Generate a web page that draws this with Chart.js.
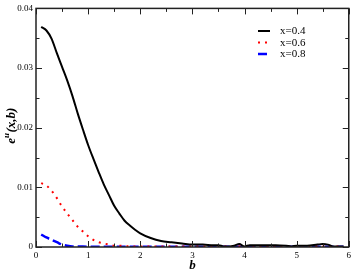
<!DOCTYPE html>
<html><head><meta charset="utf-8">
<script src="https://cdn.jsdelivr.net/npm/chart.js@4"></script>
<style>html,body{margin:0;padding:0;background:#fff}canvas{display:block}</style>
</head><body>
<canvas id="c" width="354" height="273"></canvas>
<script>
// ---- data ----
const bBlack = [0.1,0.2,0.3,0.4,0.5,0.6,0.7,0.8,0.9,1.0,1.1,1.2,1.3,1.4,1.5,1.6,1.7,1.8,1.9,2.0,2.2,2.4,2.6,2.8,3.0,3.2,3.4,3.5,3.6,3.7,3.8,3.9,4.0,4.1,4.2,4.4,4.6,4.8,4.9,5.0,5.2,5.4,5.5,5.6,5.7,5.8,5.9];
const vBlack = [0.0369,0.0363,0.0349,0.0325,0.0302,0.0279,0.0253,0.0224,0.0197,0.0171,0.0148,0.0126,0.0105,0.0087,0.0069,0.0056,0.0044,0.0036,0.0029,0.0023,0.0015,0.0010,0.0008,0.0006,0.0004,0.0004,0.0003,0.0003,0.0001,0.0001,0.0002,0.0005,0.0001,0.0003,0.0003,0.0003,0.0003,0.0002,0.0001,0.0002,0.0002,0.0004,0.0005,0.0004,0.0001,0.0001,0.0001];
const bRed = [0.1,0.2,0.3,0.4,0.5,0.6,0.7,0.8,0.9,1.0,1.1,1.2,1.3,1.4,1.5,1.6,1.8,2.0,2.5,3.0,3.5,4.0,4.5,5.0,5.5,5.9];
const vRed = [0.0107,0.0103,0.0094,0.0082,0.0068,0.0056,0.0045,0.0034,0.0026,0.0018,0.0012,0.0008,0.0006,0.0004,0.0002,0.0002,0.0001,0.0001,0.0001,0.0001,0.0001,0.0001,0.0001,0.0001,0.0001,0.0001];
const bBlue = [0.1,0.2,0.3,0.4,0.5,0.6,0.7,0.8,1.0,1.5,2.0,2.5,3.0,3.5,4.0,4.5,5.0,5.5,5.9];
const vBlue = [0.0021,0.0016,0.0012,0.0008,0.0004,0.0002,0.0001,0.0001,0.00005,0.00005,0.00005,0.00005,0.00005,0.00005,0.00005,0.00005,0.00005,0.00005,0.00005];
const seriesNames = ['x=0.4','x=0.6','x=0.8'];
const xTickValues = [0,1,2,3,4,5,6];
const xTickLabels = ['0','1','2','3','4','5','6'];
const yTickValues = [0,0.01,0.02,0.03,0.04];
const yTickLabels = ['0','0.01','0.02','0.03','0.04'];
const xMinor = [0.5,1.5,2.5,3.5,4.5,5.5];
const yMinor = [0.005,0.015,0.025,0.035];

const pts = (xs, ys) => xs.map((x,i)=>({x:x, y:ys[i]}));
const SERIF = '"Liberation Serif","DejaVu Serif",serif';

const framePlugin = {
  id: 'frame',
  afterDraw(chart) {
    const ctx = chart.ctx, a = chart.chartArea;
    const xs = chart.scales.x, ys = chart.scales.y;
    ctx.save();
    ctx.strokeStyle = '#222';
    ctx.lineWidth = 1.5;
    ctx.strokeRect(a.left, a.top, a.right - a.left, a.bottom - a.top);
    ctx.lineWidth = 1;
    ctx.beginPath();
    const tick = (vals, len) => {
      vals.forEach(v => {
        const px = Math.round(xs.getPixelForValue(v)) + 0.5;
        ctx.moveTo(px, a.bottom); ctx.lineTo(px, a.bottom - len);
        ctx.moveTo(px, a.top); ctx.lineTo(px, a.top + len);
      });
    };
    const tickY = (vals, len) => {
      vals.forEach(v => {
        const py = Math.round(ys.getPixelForValue(v)) + 0.5;
        ctx.moveTo(a.left, py); ctx.lineTo(a.left + len, py);
        ctx.moveTo(a.right, py); ctx.lineTo(a.right - len, py);
      });
    };
    tick(xTickValues, 6); tick(xMinor, 3.5);
    tickY(yTickValues, 6); tickY(yMinor, 3.5);
    ctx.stroke();

    // legend
    const ds = chart.data.datasets;
    const lx0 = 258, lx1 = 270, tx = 280, ly = [31, 42.5, 54];
    ds.forEach((d, i) => {
      ctx.save();
      ctx.strokeStyle = d.borderColor;
      ctx.lineWidth = d.borderWidth;
      ctx.setLineDash(d.borderDash || []);
      ctx.beginPath();
      ctx.moveTo(lx0, ly[i]); ctx.lineTo(lx1, ly[i]);
      ctx.stroke();
      ctx.restore();
      ctx.fillStyle = '#000';
      ctx.font = '11px ' + SERIF;
      ctx.textBaseline = 'middle';
      ctx.textAlign = 'left';
      ctx.fillText(d.label, tx, ly[i] + 0.5);
    });

    // x title
    ctx.fillStyle = '#000';
    ctx.font = 'italic bold 13px ' + SERIF;
    ctx.textAlign = 'center';
    ctx.textBaseline = 'middle';
    ctx.fillText('b', (a.left + a.right) / 2, 266);

    // y title with superscript
    ctx.save();
    ctx.translate(11, 126);
    ctx.rotate(-Math.PI / 2);
    const f1 = 'italic bold 13px ' + SERIF, f2 = 'italic bold 9px ' + SERIF;
    ctx.font = f1; const we = ctx.measureText('e').width; const wr = ctx.measureText('(x,b)').width;
    ctx.font = f2; const wu = ctx.measureText('u').width;
    let x = -(we + wu + wr) / 2;
    ctx.textAlign = 'left';
    ctx.textBaseline = 'alphabetic';
    ctx.font = f1; ctx.fillText('e', x, 4); x += we;
    ctx.font = f2; ctx.fillText('u', x, -2); x += wu + 0.5;
    ctx.font = f1; ctx.fillText('(x,b)', x, 4);
    ctx.restore();
    ctx.restore();
  }
};

new Chart(document.getElementById('c'), {
  type: 'scatter',
  data: {
    datasets: [
      { label: seriesNames[0], data: pts(bBlack, vBlack), showLine: true, borderColor: '#000', borderWidth: 2, pointRadius: 0, cubicInterpolationMode: 'monotone' },
      { label: seriesNames[1], data: pts(bRed, vRed), showLine: true, borderColor: '#ff0000', borderWidth: 2, borderDash: [2, 5], pointRadius: 0, cubicInterpolationMode: 'monotone' },
      { label: seriesNames[2], data: pts(bBlue, vBlue), showLine: true, borderColor: '#0000ff', borderWidth: 2.5, borderDash: [9, 4], pointRadius: 0, cubicInterpolationMode: 'monotone' }
    ]
  },
  options: {
    responsive: false,
    animation: false,
    devicePixelRatio: 1,
    layout: { padding: { top: 5, right: 3, left: 0, bottom: 0 } },
    plugins: { legend: { display: false }, tooltip: { enabled: false } },
    scales: {
      x: {
        type: 'linear', min: 0, max: 6,
        afterBuildTicks: s => { s.ticks = xTickValues.map(v => ({ value: v })); },
        afterFit: s => { s.height = 26; },
        grid: { display: false, drawTicks: false },
        border: { display: false },
        ticks: { font: { family: SERIF, size: 9 }, color: '#000', padding: 3, maxRotation: 0,
          callback: (v) => xTickLabels[xTickValues.indexOf(v)] }
      },
      y: {
        type: 'linear', min: 0, max: 0.04,
        afterBuildTicks: s => { s.ticks = yTickValues.map(v => ({ value: v })); },
        afterFit: s => { s.width = 36; },
        grid: { display: false, drawTicks: false },
        border: { display: false },
        ticks: { font: { family: SERIF, size: 9 }, color: '#000', padding: 3,
          callback: (v) => yTickLabels[yTickValues.indexOf(v)] }
      }
    }
  },
  plugins: [framePlugin]
});
</script>
</body></html>
